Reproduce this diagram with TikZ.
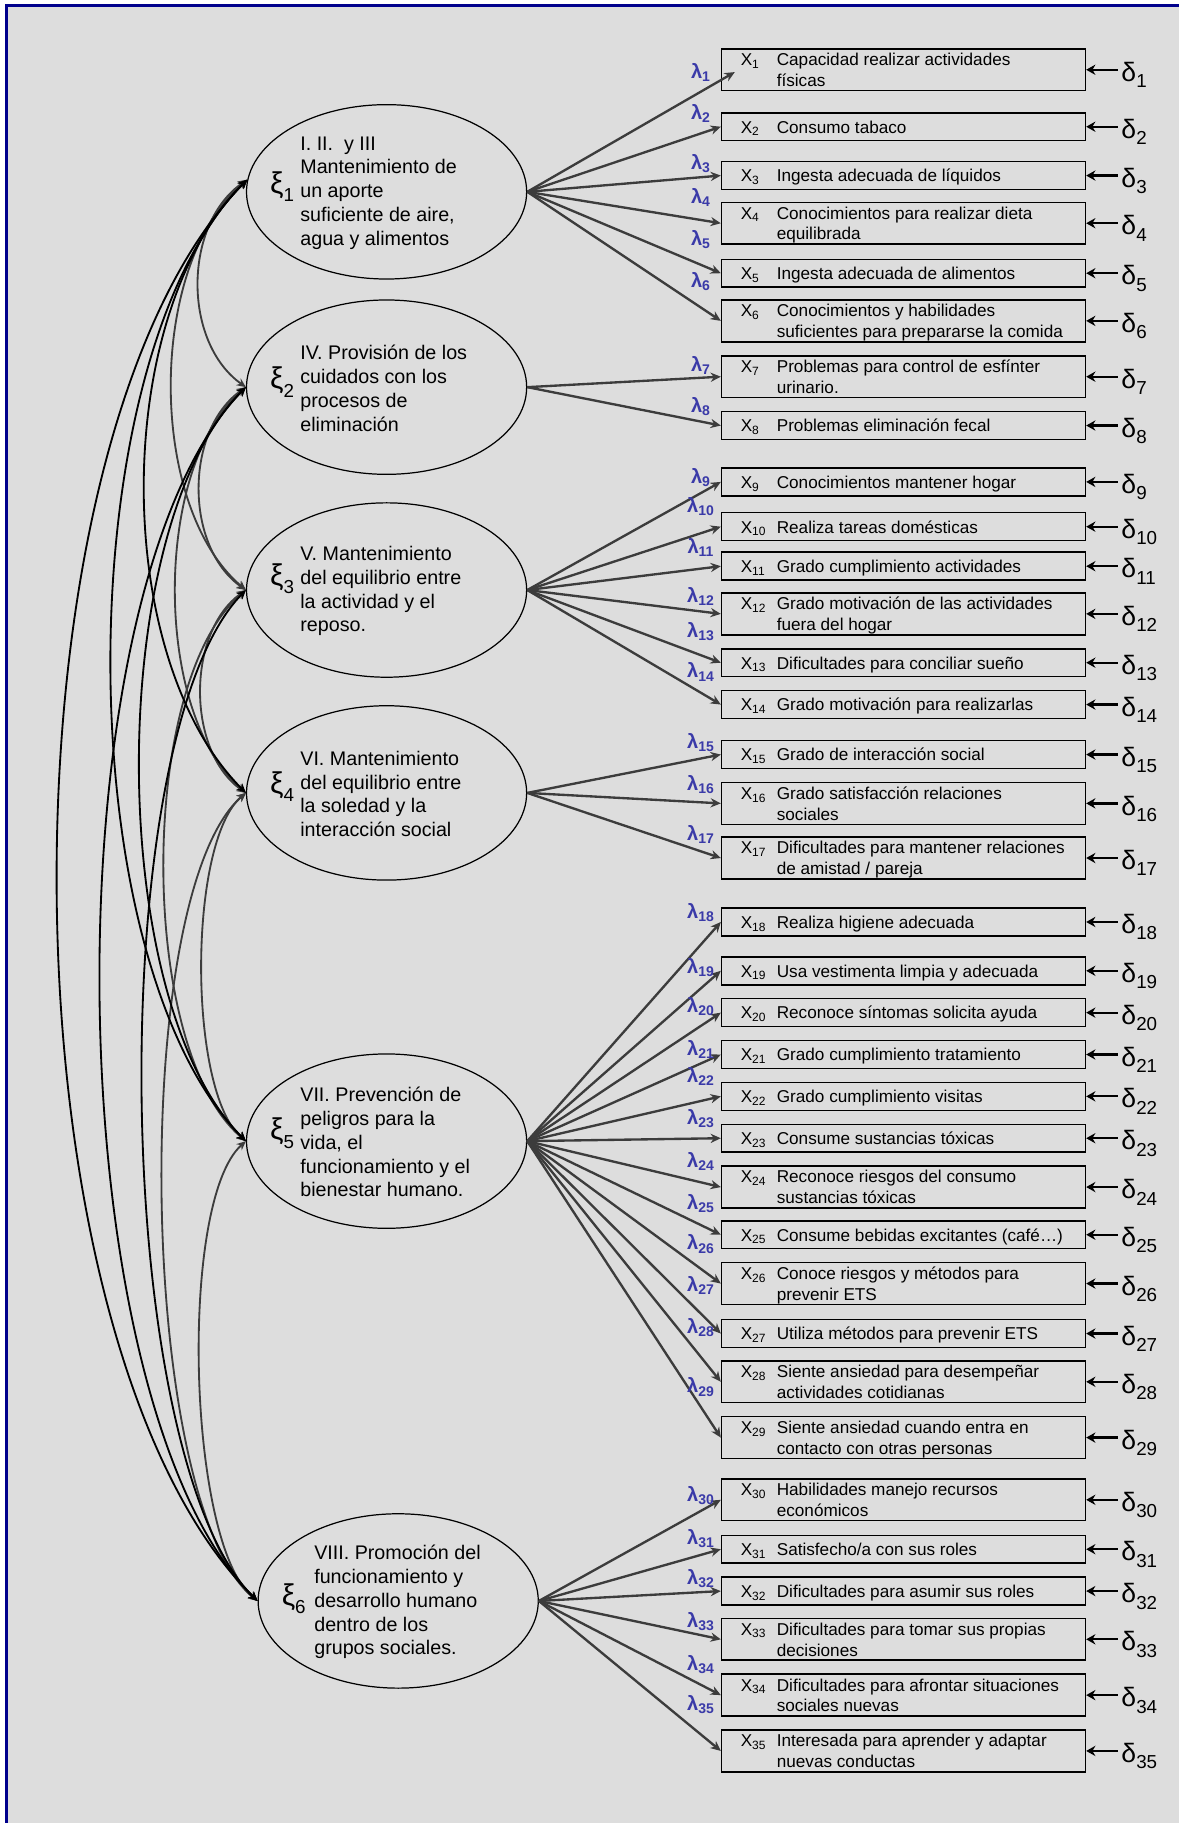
\documentclass[tikz,border=0pt]{standalone}
\usepackage{fontspec}
\setmainfont{Liberation Sans}
\usetikzlibrary{arrows.meta,shapes.geometric}
\definecolor{fondogris}{RGB}{221,221,221}
\definecolor{marcoazul}{RGB}{0,0,140}
\definecolor{lambdaazul}{RGB}{58,58,168}
\definecolor{flechagris}{RGB}{60,60,60}
\newcommand\xilab[1]{{\fontsize{14.7pt}{14.7pt}\selectfont ξ}\raisebox{-4pt}{\fontsize{9.2pt}{9.2pt}\selectfont #1}}
\newcommand\dlab[1]{{\fontsize{13pt}{13pt}\selectfont δ}\raisebox{-3.1pt}{\fontsize{9.2pt}{9.2pt}\selectfont #1}}
\newcommand\lam[1]{\textbf{λ\textsubscript{#1}}}
\newcommand\xitem[2]{\hspace*{0.32cm}\makebox[0.62cm][l]{X\textsubscript{#1}}\parbox[t]{5.3cm}{\raggedright\rule{0pt}{8.2pt}#2\rule[-2pt]{0pt}{2pt}}}

\begin{document}
\begin{tikzpicture}[x = 0.02cm, y = -0.02cm,
  latent/.style = {ellipse, draw, line width = 0.6pt, minimum width = 4.82cm, minimum height = 3cm, inner sep = 0pt},
  latenttext/.style = {anchor = west, align = left, inner sep = 0pt, font = \fontsize{9.64pt}{11.62pt}\selectfont},
  xilabel/.style = {anchor = base west, inner sep = 0pt},
  itembox/.style = {draw, line width = 0.75pt, anchor = west, minimum width = 6.26cm, minimum height = 0.48cm, inner sep = 0pt, font = \fontsize{8.4pt}{10.2pt}\selectfont},
  twoline/.style = {minimum height = 0.72cm},
  deltalab/.style = {anchor = base west, inner sep = 0pt},
  lambdalab/.style = {text = lambdaazul, inner sep = 0pt, font = \fontsize{9.8pt}{9.8pt}\selectfont},
  loading/.style = {draw = flechagris, line width = 1.15pt, arrows = {-Stealth[length = 5pt, width = 4.5pt]}},
  errarrow/.style = {draw = black, line width = 1.1pt, shorten <= 0.06cm, arrows = {-Stealth[length = 4.5pt, width = 5pt]}},
  cov/.style = {line width = 0.9pt, arrows = {Stealth[length = 4.5pt, width = 4pt]-Stealth[length = 4.5pt, width = 4pt]}},
  covgrey/.style = {cov, draw = flechagris},
  covblack/.style = {cov, draw = black}]
\useasboundingbox (0,0) rectangle (1014,1568);
% frame
\begin{scope}
\clip (0,0) rectangle (1014,1568);
\path[fill = fondogris, draw = marcoazul, line width = 1.5pt] (5.5,5) rectangle (1040,1600);
\end{scope}

% factors
\node[latent] (xi1) at (332.5,165) {};
\node[latent] (xi2) at (332.5,333) {};
\node[latent] (xi3) at (332.5,507.5) {};
\node[latent] (xi4) at (332.5,682) {};
\node[latent] (xi5) at (332.5,981.5) {};
\node[latent] (xi6) at (342.5,1377) {};
\node[xilabel] (s1) at (232,166.5) {\xilab{1}};
\node[xilabel] (s2) at (232,334.5) {\xilab{2}};
\node[xilabel] (s3) at (232,503.5) {\xilab{3}};
\node[xilabel] (s4) at (232,682.5) {\xilab{4}};
\node[xilabel] (s5) at (232,980.5) {\xilab{5}};
\node[xilabel] (s6) at (242,1380.5) {\xilab{6}};
\node[latenttext] (t1) at (258,166) {I. II.\ \ y III\\Mantenimiento de\\un aporte\\suficiente de aire,\\agua y alimentos};
\node[latenttext] (t2) at (258,334) {IV. Provisión de los\\cuidados con los\\procesos de\\eliminación};
\node[latenttext] (t3) at (258,508.5) {V. Mantenimiento\\del equilibrio entre\\la actividad y el\\reposo.};
\node[latenttext] (t4) at (258,683) {VI. Mantenimiento\\del equilibrio entre\\la soledad y la\\interacción social};
\node[latenttext] (t5) at (258,982.5) {VII. Prevención de\\peligros para la\\vida, el\\funcionamiento y el\\bienestar humano.};
\node[latenttext] (t6) at (270,1378) {VIII. Promoción del\\funcionamiento y\\desarrollo humano\\dentro de los\\grupos sociales.};

% items
\node[itembox, twoline] (x1) at (620,60) {\xitem{1}{Capacidad realizar actividades\\físicas}};
\node[itembox] (x2) at (620,109) {\xitem{2}{Consumo tabaco}};
\node[itembox] (x3) at (620,151) {\xitem{3}{Ingesta adecuada de líquidos}};
\node[itembox, twoline] (x4) at (620,192) {\xitem{4}{Conocimientos para realizar dieta\\equilibrada}};
\node[itembox] (x5) at (620,235) {\xitem{5}{Ingesta adecuada de alimentos}};
\node[itembox, twoline] (x6) at (620,276) {\xitem{6}{Conocimientos y habilidades\\suficientes para prepararse la comida}};
\node[itembox, twoline] (x7) at (620,324) {\xitem{7}{Problemas para control de esfínter\\urinario.}};
\node[itembox] (x8) at (620,366) {\xitem{8}{Problemas eliminación fecal}};
\node[itembox] (x9) at (620,414.5) {\xitem{9}{Conocimientos mantener hogar}};
\node[itembox] (x10) at (620,453) {\xitem{10}{Realiza tareas domésticas}};
\node[itembox] (x11) at (620,487) {\xitem{11}{Grado cumplimiento actividades}};
\node[itembox, twoline] (x12) at (620,528) {\xitem{12}{Grado motivación de las actividades\\fuera del hogar}};
\node[itembox] (x13) at (620,570) {\xitem{13}{Dificultades para conciliar sueño}};
\node[itembox] (x14) at (620,606) {\xitem{14}{Grado motivación para realizarlas}};
\node[itembox] (x15) at (620,649) {\xitem{15}{Grado de interacción social}};
\node[itembox, twoline] (x16) at (620,691) {\xitem{16}{Grado satisfacción relaciones\\sociales}};
\node[itembox, twoline] (x17) at (620,738) {\xitem{17}{Dificultades para mantener relaciones\\de amistad / pareja}};
\node[itembox] (x18) at (620,793) {\xitem{18}{Realiza higiene adecuada}};
\node[itembox] (x19) at (620,835) {\xitem{19}{Usa vestimenta limpia y adecuada}};
\node[itembox] (x20) at (620,871) {\xitem{20}{Reconoce síntomas solicita ayuda}};
\node[itembox] (x21) at (620,907) {\xitem{21}{Grado cumplimiento tratamiento}};
\node[itembox] (x22) at (620,943) {\xitem{22}{Grado cumplimiento visitas}};
\node[itembox] (x23) at (620,979) {\xitem{23}{Consume sustancias tóxicas}};
\node[itembox, twoline] (x24) at (620,1021) {\xitem{24}{Reconoce riesgos del consumo\\sustancias tóxicas}};
\node[itembox] (x25) at (620,1062) {\xitem{25}{Consume bebidas excitantes (café…)}};
\node[itembox, twoline] (x26) at (620,1104) {\xitem{26}{Conoce riesgos y métodos para\\prevenir ETS}};
\node[itembox] (x27) at (620,1147) {\xitem{27}{Utiliza métodos para prevenir ETS}};
\node[itembox, twoline] (x28) at (620,1188.5) {\xitem{28}{Siente ansiedad para desempeñar\\actividades cotidianas}};
\node[itembox, twoline] (x29) at (620,1236.5) {\xitem{29}{Siente ansiedad cuando entra en\\contacto con otras personas}};
\node[itembox, twoline] (x30) at (620,1290) {\xitem{30}{Habilidades manejo recursos\\económicos}};
\node[itembox] (x31) at (620,1332.5) {\xitem{31}{Satisfecho/a con sus roles}};
\node[itembox] (x32) at (620,1368.5) {\xitem{32}{Dificultades para asumir sus roles}};
\node[itembox, twoline] (x33) at (620,1410) {\xitem{33}{Dificultades para tomar sus propias\\decisiones}};
\node[itembox, twoline] (x34) at (620,1458) {\xitem{34}{Dificultades para afrontar situaciones\\sociales nuevas}};
\node[itembox, twoline] (x35) at (620,1506) {\xitem{35}{Interesada para aprender y adaptar\\nuevas conductas}};

% errors
\foreach \i in {1,...,35}{
  \node[deltalab] (d\i) at ([xshift = 0.6cm, yshift = -0.2cm]x\i.east) {\dlab{\i}};
  \path[draw, errarrow] (d\i.west |- x\i.east) -- (x\i.east);
}

% loadings
\path[draw, loading] (xi1.east) -- ([xshift = 0.24cm, yshift = -0.04cm]x1.west);
\foreach \f/\i in {1/2,1/3,1/4,1/5,1/6,2/7,2/8,3/9,3/10,3/11,3/12,3/13,3/14,4/15,4/16,4/17,
  5/18,5/19,5/20,5/21,5/22,5/23,5/24,5/25,5/26,5/27,5/28,5/29,6/30,6/31,6/32,6/33,6/34,6/35}
  \path[draw, loading] (xi\f.east) -- (x\i.west);
\foreach \i/\ly in {1/62,2/98,3/141,4/170,5/206,6/242,7/314,8/350,9/411,10/436,11/471,12/513,
  13/543,14/578,15/639,16/675,17/718,18/785,19/832,20/866,21/903,22/926,23/962,24/999,25/1035,
  26/1070,27/1106,28/1142,29/1193,30/1286,31/1323,32/1358,33/1395,34/1432,35/1466}
  \node[lambdalab] (l\i) at (603,\ly) {\lam{\i}};

% covariances
\path[draw, covgrey] (xi1.175) [bend right = 55, looseness = 0.96] to (xi2.west);
\path[draw, covgrey] (xi2.west) [bend right = 55, looseness = 0.95] to (xi3.west);
\path[draw, covgrey] (xi3.west) [bend right = 55, looseness = 0.92] to (xi4.west);
\path[draw, covgrey] (xi4.west) [bend right = 50, looseness = 0.56] to (xi5.west);
\path[draw, covgrey] (xi5.west) [bend right = 50, looseness = 0.5] to (xi6.west);
\path[draw, covgrey] (xi1.175) [bend right = 50, looseness = 0.81] to (xi3.west);
\path[draw, covgrey] (xi2.west) [bend right = 50, looseness = 0.77] to (xi4.west);
\path[draw, covgrey] (xi3.west) [bend right = 50, looseness = 0.66] to (xi5.west);
\path[draw, covgrey] (xi4.west) [bend right = 50, looseness = 0.49] to (xi6.west);
\path[draw, covblack] (xi1.175) [bend right = 45, looseness = 0.8] to (xi4.west);
\path[draw, covblack] (xi2.west) [bend right = 45, looseness = 0.68] to (xi5.west);
\path[draw, covblack] (xi3.west) [bend right = 45, looseness = 0.52] to (xi6.west);
\path[draw, covblack] (xi1.175) [bend right = 45, looseness = 0.68] to (xi5.west);
\path[draw, covblack] (xi2.west) [bend right = 45, looseness = 0.6] to (xi6.west);
\path[draw, covblack] (xi1.175) [bend right = 45, looseness = 0.66] to (xi6.west);
\end{tikzpicture}
\end{document}
